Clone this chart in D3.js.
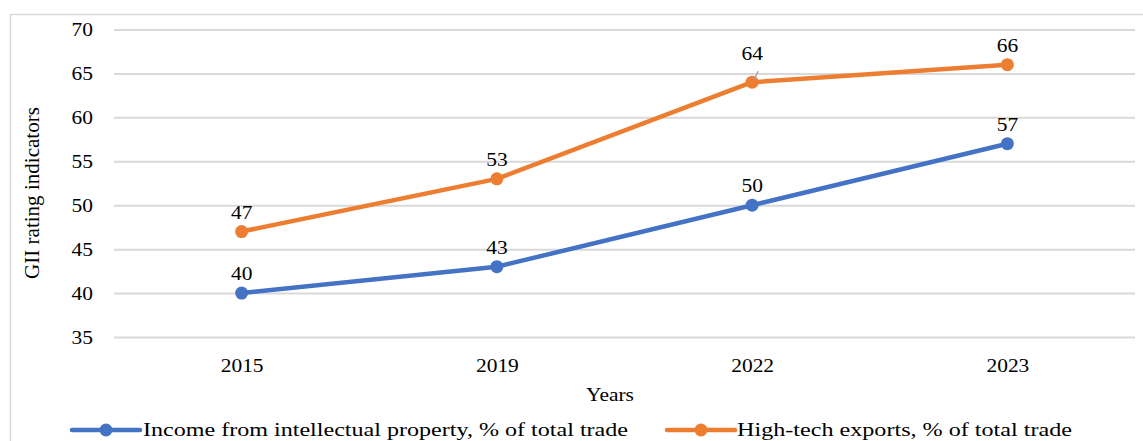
<!DOCTYPE html>
<html>
<head>
<meta charset="utf-8">
<script src="https://cdn.jsdelivr.net/npm/d3@7"></script>
<style>
  body { margin: 0; background: #fff; }
  text { font-family: "Liberation Serif", "Times New Roman", serif; fill: #000; }
</style>
</head>
<body>
<svg id="chart"></svg>
<script>
const width = 1143
const height = 441

// Data
const years = ["2015", "2019", "2022", "2023"]
const incomeIP = [40, 43, 50, 57]
const hiTech = [47, 53, 64, 66]
const yTicks = [35, 40, 45, 50, 55, 60, 65, 70]
const seriesNames = ["Income from intellectual property, % of total trade", "High-tech exports, % of total trade"]

// Style configuration
const blue = "#4472C4"
const orange = "#ED7D31"
const gridColor = "#D9D9D9"
const fontSize = 19.5
const stretch = 1.1

const margin = { left: 114, right: 8, top: 29.5, bottom: 104 }

const svg = d3.select("#chart")
    .attr("width", width)
    .attr("height", height)

// outer chart frame
svg.append("rect")
    .attr("x", 10.5).attr("y", 14.5)
    .attr("width", width).attr("height", height)
    .attr("fill", "none")
    .attr("stroke", gridColor)
    .attr("stroke-width", 1.5)

const x = d3.scalePoint()
    .domain(years)
    .range([margin.left, width - margin.right])
    .padding(0.5)

const y = d3.scaleLinear()
    .domain([35, 70])
    .range([height - margin.bottom, margin.top])

// gridlines + y axis
const yAxis = svg.append("g")
    .attr("transform", `translate(${margin.left},0)`)
    .call(d3.axisLeft(y).tickValues(yTicks).tickSize(-(width - margin.right - margin.left)).tickPadding(21))

yAxis.select(".domain").remove()
yAxis.selectAll(".tick line").attr("stroke", gridColor).attr("stroke-width", 2)
yAxis.selectAll(".tick text")
    .attr("font-size", fontSize)
    .attr("font-family", "Liberation Serif")
    .attr("fill", "#000")
    .attr("transform", `scale(${stretch},1)`)
    .attr("x", -21 / stretch)

// x axis labels
const xAxis = svg.append("g")
    .attr("transform", `translate(0,${height - margin.bottom})`)
    .call(d3.axisBottom(x).tickSize(0).tickPadding(21))

xAxis.select(".domain").remove()
xAxis.selectAll(".tick text")
    .attr("font-size", fontSize)
    .attr("font-family", "Liberation Serif")
    .attr("fill", "#000")
    .attr("transform", `scale(${stretch},1)`)

// axis titles
svg.append("text")
    .attr("transform", `translate(610,401) scale(${stretch},1)`)
    .attr("text-anchor", "middle")
    .attr("font-size", fontSize)
    .text("Years")

svg.append("text")
    .attr("transform", `translate(39,193) rotate(-90) scale(1.08,1.1)`)
    .attr("text-anchor", "middle")
    .attr("font-size", fontSize)
    .text("GII rating indicators")

// lines
const series = [
    { name: seriesNames[0], values: incomeIP, color: blue },
    { name: seriesNames[1], values: hiTech, color: orange }
]

const line = d3.line()
    .x((d, i) => x(years[i]))
    .y(d => y(d))

series.forEach(s => {
    svg.append("path")
        .datum(s.values)
        .attr("d", line)
        .attr("fill", "none")
        .attr("stroke", s.color)
        .attr("stroke-width", 4.5)
        .attr("stroke-linejoin", "round")

    svg.selectAll(null)
        .data(s.values)
        .enter()
        .append("circle")
        .attr("cx", (d, i) => x(years[i]))
        .attr("cy", d => y(d))
        .attr("r", 6.5)
        .attr("fill", s.color)

    svg.selectAll(null)
        .data(s.values)
        .enter()
        .append("text")
        .attr("transform", (d, i) => {
            const lift = (s.color == orange && i == 2) ? 22 : 13
            return `translate(${x(years[i])},${y(d) - lift}) scale(${stretch},1)`
        })
        .attr("text-anchor", "middle")
        .attr("font-size", fontSize)
        .text(d => d)
})

// leader line for the 64 label
svg.append("line")
    .attr("x1", x("2022") + 2).attr("y1", y(hiTech[2]) - 3)
    .attr("x2", x("2022") + 6).attr("y2", y(hiTech[2]) - 11)
    .attr("stroke", "#A6A6A6")
    .attr("stroke-width", 1.5)

// legend
const legendY = 430
const legendItems = [
    { x: 72, color: blue, textX: 143, textW: 485 },
    { x: 667, color: orange, textX: 737, textW: 335 }
]

legendItems.forEach((item, i) => {
    svg.append("line")
        .attr("x1", item.x).attr("x2", item.x + 68)
        .attr("y1", legendY).attr("y2", legendY)
        .attr("stroke", item.color)
        .attr("stroke-width", 4.5)
        .attr("stroke-linecap", "round")
    svg.append("circle")
        .attr("cx", item.x + 34).attr("cy", legendY)
        .attr("r", 6.5)
        .attr("fill", item.color)
    svg.append("text")
        .attr("x", item.textX)
        .attr("y", legendY + 6)
        .attr("font-size", fontSize)
        .attr("textLength", item.textW)
        .attr("lengthAdjust", "spacingAndGlyphs")
        .text(seriesNames[i])
})
</script>
</body>
</html>
